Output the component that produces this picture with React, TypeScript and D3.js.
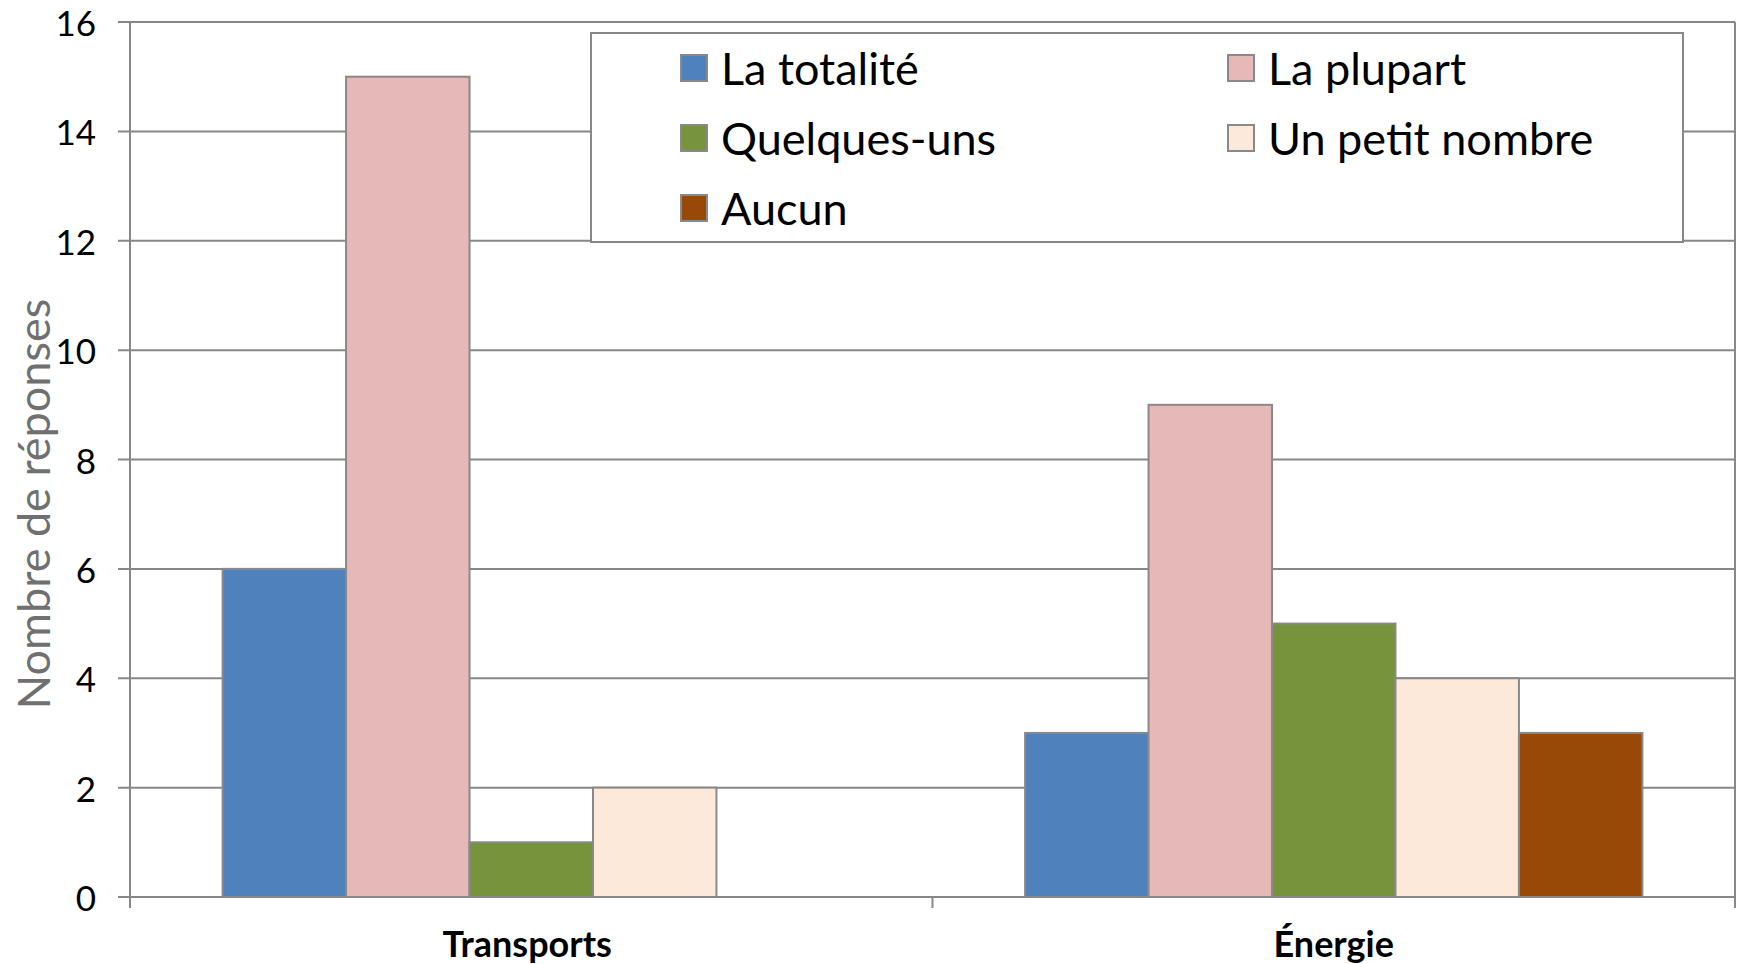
import React from "react";
import * as d3 from "d3";

const categories = ["Transports", "Énergie"];
const seriesNames = ["La totalité", "La plupart", "Quelques-uns", "Un petit nombre", "Aucun"];
const seriesColors = ["#4F81BD", "#E6B9B8", "#77933C", "#FDE9D9", "#984807"];
const transportsValues = [6, 15, 1, 2, 0];
const energieValues = [3, 9, 5, 4, 3];
const yTicks = [0, 2, 4, 6, 8, 10, 12, 14, 16];

const W = 1742;
const H = 964;
const left = 130;
const right = 1735;
const top = 22;
const bottom = 897;
const FONT = "Lato, 'Open Sans', sans-serif";
const GRID = "#878787";

export default function App() {
  const values = [transportsValues, energieValues];
  const x0 = d3.scaleBand<string>().domain(categories).range([left, right]).padding(0);
  const bw = x0.bandwidth();
  const gap = (bw / (seriesNames.length + 1.5)) * 1.5;
  const x1 = d3
    .scaleBand<number>()
    .domain(d3.range(seriesNames.length))
    .range([gap / 2, bw - gap / 2])
    .padding(0);
  const y = d3.scaleLinear().domain([0, 16]).range([bottom, top]);

  const legendItems = [
    { i: 0, col: 0, row: 0 },
    { i: 1, col: 1, row: 0 },
    { i: 2, col: 0, row: 1 },
    { i: 3, col: 1, row: 1 },
    { i: 4, col: 0, row: 2 },
  ];
  const legX = [681, 1228];
  const legY = [68, 138, 208];

  return (
    <svg
      width={W}
      height={H}
      style={{ position: "absolute", left: 0, top: 0, background: "#fff" }}
      fontFamily={FONT}
    >
      <rect x={0} y={0} width={W} height={H} fill="#fff" />
      {yTicks.map((t) => (
        <line key={"g" + t} x1={left - 12} x2={right} y1={y(t)} y2={y(t)} stroke={GRID} strokeWidth={2} />
      ))}
      <line x1={right} x2={right} y1={top} y2={bottom + 11} stroke={GRID} strokeWidth={2} />
      <line x1={left} x2={left} y1={top} y2={bottom + 11} stroke={GRID} strokeWidth={2} />
      {categories.map((c) => (
        <line
          key={"ct" + c}
          x1={(x0(c) as number) + bw}
          x2={(x0(c) as number) + bw}
          y1={bottom}
          y2={bottom + 11}
          stroke={GRID}
          strokeWidth={2}
        />
      ))}
      {categories.map((c, ci) => (
        <g key={"cat" + c} transform={`translate(${x0(c)},0)`}>
          {values[ci].map((v, si) =>
            v > 0 ? (
              <rect
                key={si}
                x={x1(si)}
                y={y(v)}
                width={x1.bandwidth()}
                height={y(0) - y(v)}
                fill={seriesColors[si]}
                stroke="#898989"
                strokeWidth={2}
              />
            ) : null
          )}
        </g>
      ))}
      {yTicks.map((t) => (
        <text
          key={"yl" + t}
          x={96}
          y={y(t)}
          textAnchor="end"
          dominantBaseline="central"
          fontSize={35}
          fill="#000"
        >
          {t}
        </text>
      ))}
      {categories.map((c) => (
        <text
          key={"cl" + c}
          x={(x0(c) as number) + bw / 2 - (c === "Transports" ? 4 : 0)}
          y={943}
          textAnchor="middle"
          dominantBaseline="central"
          fontSize={36}
          fontWeight="bold"
          fill="#000"
        >
          {c}
        </text>
      ))}
      <text
        transform={`translate(33,504) rotate(-90)`}
        textAnchor="middle"
        dominantBaseline="central"
        fontSize={45}
        fill="#707070"
      >
        Nombre de réponses
      </text>
      <rect x={591} y={33} width={1092} height={209} fill="#fff" stroke={GRID} strokeWidth={2} />
      {legendItems.map((it) => (
        <g key={"lg" + it.i}>
          <rect
            x={legX[it.col]}
            y={legY[it.row] - 13}
            width={26}
            height={26}
            fill={seriesColors[it.i]}
            stroke="#898989"
            strokeWidth={2}
          />
          <text
            x={legX[it.col] + 40}
            y={legY[it.row]}
            dominantBaseline="central"
            fontSize={45}
            fill="#000"
          >
            {seriesNames[it.i]}
          </text>
        </g>
      ))}
    </svg>
  );
}
